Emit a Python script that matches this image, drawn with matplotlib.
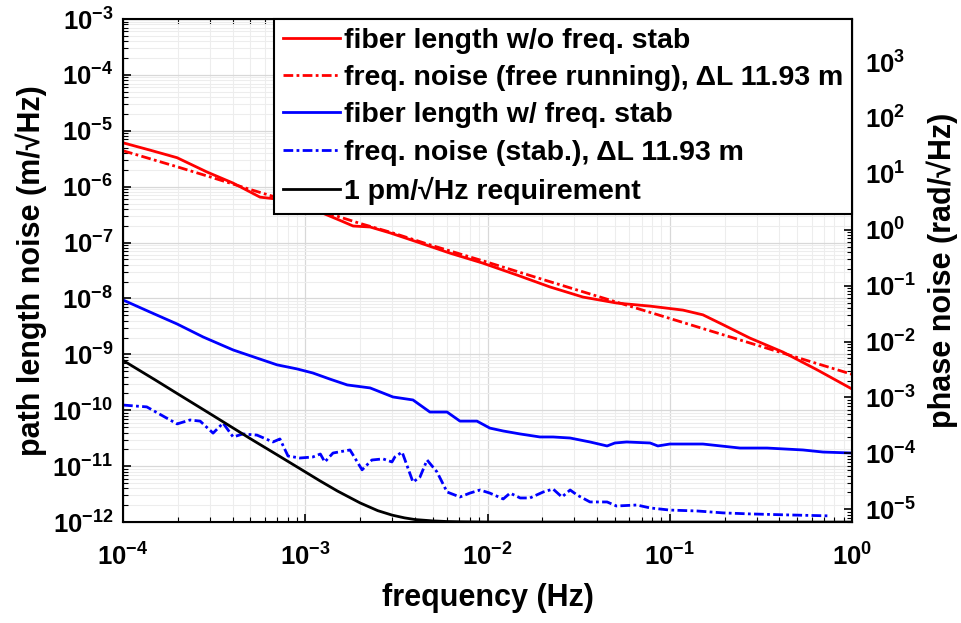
import numpy as np
import matplotlib.pyplot as plt
from matplotlib.ticker import LogLocator, NullFormatter

plt.rcParams['font.family'] = ['Liberation Sans', 'DejaVu Sans']
plt.rcParams['font.weight'] = 'bold'
plt.rcParams['mathtext.fontset'] = 'custom'
plt.rcParams['mathtext.rm'] = 'Liberation Sans:bold'
plt.rcParams['mathtext.bf'] = 'Liberation Sans:bold'
plt.rcParams['mathtext.it'] = 'Liberation Sans:bold:italic'

# fibre length noise without frequency stabilisation
f_free = [1.0e-4, 1.41e-4, 1.98e-4, 2.89e-4, 4.02e-4, 5.65e-4, 7.0e-4, 9.0e-4,
          1.02e-3, 1.21e-3, 1.55e-3, 1.83e-3, 2.27e-3, 2.92e-3, 4.1e-3, 6.2e-3,
          9.4e-3, 1.45e-2, 2.2e-2, 3.34e-2, 5.1e-2, 7.8e-2, 0.118, 0.152, 0.196,
          0.275, 0.418, 0.643, 1.0]
fiber_free = [6.1e-6, 4.5e-6, 3.3e-6, 1.83e-6, 1.16e-6, 6.5e-7, 6.0e-7, 5.3e-7,
              5.1e-7, 3.5e-7, 2.5e-7, 1.98e-7, 1.90e-7, 1.49e-7, 1.03e-7, 6.5e-8,
              4.3e-8, 2.63e-8, 1.61e-8, 1.06e-8, 8.3e-9, 7.3e-9, 6.2e-9, 5.1e-9,
              3.4e-9, 1.96e-9, 1.10e-9, 5.3e-10, 2.4e-10]

# frequency noise, free running
f_fn = [1e-4, 2e-4, 3e-4, 5e-4, 1e-3, 2e-3, 3e-3, 5e-3, 1e-2, 2e-2, 5e-2, 0.1,
        0.2, 0.5, 1.0]
fn_free = [4.4e-6, 2.25e-6, 1.5e-6, 8.9e-7, 4.5e-7, 2.2e-7, 1.5e-7, 8.8e-8,
           4.45e-8, 2.2e-8, 8.8e-9, 4.4e-9, 2.2e-9, 8.8e-10, 4.4e-10]

# fibre length noise with frequency stabilisation
f_stab = [1.0e-4, 1.41e-4, 1.98e-4, 2.75e-4, 4.02e-4, 5.43e-4, 7.0e-4, 9.0e-4,
          1.10e-3, 1.37e-3, 1.70e-3, 2.27e-3, 3.03e-3, 3.90e-3, 4.83e-3, 6.0e-3,
          7.06e-3, 8.75e-3, 1.03e-2, 1.22e-2, 1.51e-2, 1.94e-2, 2.29e-2, 2.84e-2,
          3.65e-2, 4.53e-2, 5.0e-2, 5.8e-2, 7.8e-2, 8.6e-2, 0.100, 0.152, 0.243,
          0.342, 0.538, 0.693, 1.0]
fiber_stab = [9.4e-9, 5.7e-9, 3.5e-9, 2.05e-9, 1.20e-9, 8.6e-10, 6.5e-10,
              5.5e-10, 4.65e-10, 3.6e-10, 2.84e-10, 2.51e-10, 1.73e-10, 1.53e-10,
              9.3e-11, 9.3e-11, 6.4e-11, 6.4e-11, 4.8e-11, 4.26e-11, 3.77e-11,
              3.33e-11, 3.33e-11, 3.19e-11, 2.71e-11, 2.30e-11, 2.60e-11, 2.71e-11,
              2.60e-11, 2.30e-11, 2.49e-11, 2.49e-11, 2.11e-11, 2.11e-11, 1.95e-11,
              1.79e-11, 1.72e-11]

# frequency noise, stabilised
f_fs = [1.0e-4, 1.35e-4, 1.98e-4, 2.33e-4, 2.65e-4, 3.12e-4, 3.54e-4, 4.02e-4,
        4.55e-4, 5.43e-4, 6.65e-4, 7.26e-4, 8.04e-4, 9.35e-4, 1.10e-3, 1.21e-3,
        1.28e-3, 1.42e-3, 1.76e-3, 2.05e-3, 2.32e-3, 2.67e-3, 2.99e-3, 3.1e-3,
        3.40e-3, 3.90e-3, 4.26e-3, 4.66e-3, 5.28e-3, 6.0e-3, 7.06e-3, 8.0e-3,
        9.1e-3, 1.03e-2, 1.22e-2, 1.33e-2, 1.51e-2, 1.71e-2, 2.02e-2, 2.29e-2,
        2.56e-2, 2.84e-2, 3.1e-2, 3.65e-2, 4.53e-2, 5.1e-2, 6.6e-2, 7.8e-2,
        0.100, 0.141, 0.196, 0.275, 0.457, 0.757]
fn_stab = [1.24e-10, 1.15e-10, 5.7e-11, 6.7e-11, 6.4e-11, 3.9e-11, 5.9e-11,
           3.33e-11, 3.77e-11, 3.6e-11, 2.71e-11, 3.07e-11, 1.52e-11, 1.40e-11,
           1.46e-11, 1.65e-11, 1.19e-11, 1.72e-11, 1.95e-11, 8.6e-12, 1.29e-11,
           1.35e-11, 1.19e-11, 1.46e-11, 1.79e-11, 5.2e-12, 6.4e-12, 1.29e-11,
           7.9e-12, 3.45e-12, 2.81e-12, 3.3e-12, 3.75e-12, 3.3e-12, 2.59e-12,
           3.3e-12, 2.70e-12, 2.70e-12, 3.45e-12, 3.9e-12, 2.81e-12, 3.75e-12,
           3.05e-12, 2.29e-12, 2.29e-12, 1.94e-12, 2.02e-12, 1.79e-12, 1.64e-12,
           1.58e-12, 1.46e-12, 1.40e-12, 1.34e-12, 1.29e-12]

# 1 pm/sqrt(Hz) requirement
f_req = [1e-4, 1.5e-4, 2e-4, 3e-4, 5e-4, 7e-4, 1e-3, 1.2e-3, 1.5e-3, 2e-3, 2.5e-3,
         3e-3, 3.5e-3, 4e-3, 5e-3, 6e-3, 7e-3, 1e-2, 3e-2, 1e-1, 1.0]
req = [7.8e-10, 3.5e-10, 1.96e-10, 8.7e-11, 3.1e-11, 1.6e-11, 7.9e-12, 5.5e-12,
       3.6e-12, 2.2e-12, 1.6e-12, 1.33e-12, 1.19e-12, 1.11e-12, 1.05e-12,
       1.023e-12, 1.013e-12, 1.003e-12, 1.0e-12, 1.0e-12, 1.0e-12]

labels = ['fiber length w/o freq. stab',
          'freq. noise (free running), ΔL 11.93 m',
          'fiber length w/ freq. stab',
          'freq. noise (stab.), ΔL 11.93 m',
          '1 pm/√Hz requirement']

ylim_path = (1e-12, 1e-3)
ylim_phase = (5.9e-6, 5.9e3)
dashdot = (0, (3.5, 1.2, 1.0, 1.2))

fig = plt.figure(figsize=(9.61, 6.23), dpi=100)
ax = fig.add_axes([0.128, 0.162, 0.7586, 0.8075])

l1, = ax.plot(f_free, fiber_free, color='red', lw=2)
l2, = ax.plot(f_fn, fn_free, color='red', lw=2, ls=dashdot)
l3, = ax.plot(f_stab, fiber_stab, color='blue', lw=2)
l4, = ax.plot(f_fs, fn_stab, color='blue', lw=2, ls=dashdot)
l5, = ax.plot(f_req, req, color='black', lw=2)

ax.set_xscale('log')
ax.set_yscale('log')
ax.set_xlim(1e-4, 1)
ax.set_ylim(*ylim_path)
ax.set_xticks([1e-4, 1e-3, 1e-2, 1e-1, 1])
ax.set_yticks([10.0 ** k for k in range(-12, -2)])
ax.xaxis.set_minor_locator(LogLocator(base=10, subs=np.arange(2, 10), numticks=100))
ax.yaxis.set_minor_locator(LogLocator(base=10, subs=np.arange(2, 10), numticks=100))
ax.xaxis.set_minor_formatter(NullFormatter())
ax.yaxis.set_minor_formatter(NullFormatter())
ax.grid(True, which='major', color='#d8d8d8', lw=0.9)
ax.grid(True, which='minor', color='#ededed', lw=0.8)
ax.tick_params(which='both', direction='in', top=True, labelsize=18.5)
ax.tick_params(which='major', length=6, width=1.2)
ax.tick_params(which='minor', length=3.5, width=0.8)
ax.tick_params(axis='x', which='major', pad=15)
ax.tick_params(axis='y', which='major', pad=7)
for s in ax.spines.values():
    s.set_linewidth(1.5)
ax.set_xlabel('frequency (Hz)', fontsize=22, fontweight='bold', labelpad=9)
ax.set_ylabel('path length noise (m/√Hz)', fontsize=22, fontweight='bold', labelpad=4)

ax2 = ax.twinx()
ax2.set_yscale('log')
ax2.set_ylim(*ylim_phase)
ax2.set_yticks([10.0 ** k for k in range(-5, 4)])
ax2.yaxis.set_minor_locator(LogLocator(base=10, subs=np.arange(2, 10), numticks=100))
ax2.yaxis.set_minor_formatter(NullFormatter())
ax2.tick_params(which='both', direction='in', labelsize=18.5)
ax2.tick_params(which='major', length=6, width=1.2, pad=9)
ax2.tick_params(which='minor', length=3.5, width=0.8)
ax2.set_ylabel('phase noise (rad/√Hz)', fontsize=22, fontweight='bold', labelpad=8)

leg = ax2.legend([l1, l2, l3, l4, l5], labels, loc='upper right', fontsize=20.5,
                 frameon=True, fancybox=False, framealpha=1, edgecolor='black',
                 borderaxespad=0.0, handlelength=2.0, handletextpad=0.15,
                 labelspacing=0.4, borderpad=0.3)
leg.get_frame().set_linewidth(1.5)
for t in leg.get_texts():
    t.set_fontweight('bold')

fig.savefig('out.png', dpi=100)
